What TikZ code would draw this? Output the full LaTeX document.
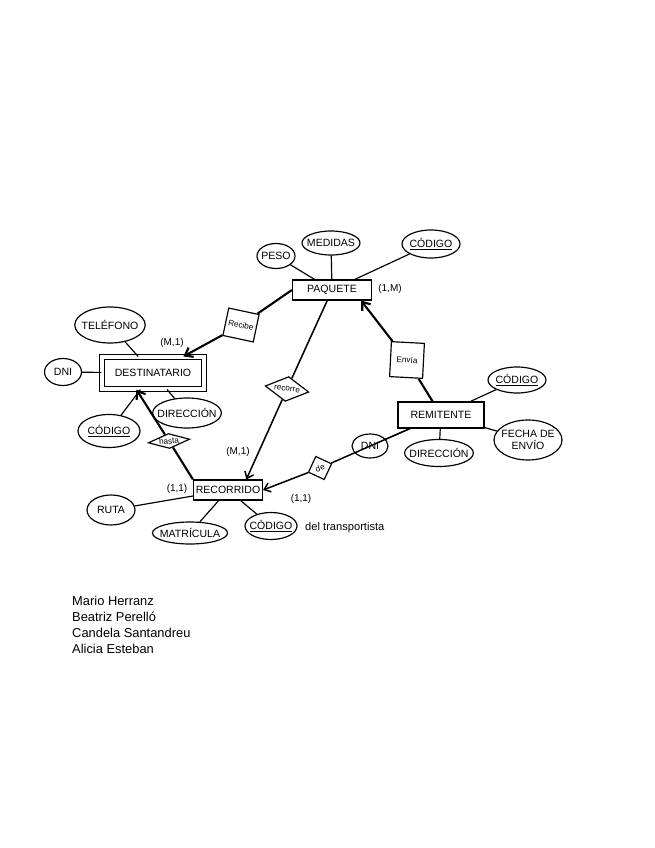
\documentclass[tikz,border=0pt]{standalone}
\usepackage{fontspec}
\setsansfont{Liberation Sans}
\usepackage{tikz}
\usetikzlibrary{shapes.geometric,arrows.meta}
\tikzset{
    % Base node style
    basenode/.style={
        draw=black,
        line width=1pt,
        align=center,
        inner sep=1pt,
        font=\sffamily\fontsize{9}{10}\selectfont
    },
    % Entity style
    entitynode/.style={
        basenode,
        rectangle
    },
    % Weak entity style (double border)
    weaknode/.style={
        entitynode,
        double,
        double distance=3pt
    },
    % Attribute style
    attrnode/.style={
        basenode,
        ellipse,
        inner xsep=-3pt,
        inner ysep=0pt
    },
    % Relationship styles
    relnode/.style={
        basenode,
        diamond,
        inner sep=0pt,
        font=\sffamily\fontsize{7}{8}\selectfont
    },
    relbox/.style={
        basenode,
        rectangle,
        inner sep=0pt,
        font=\sffamily\fontsize{7}{8}\selectfont
    },
    % Cardinality label
    cardlabel/.style={
        inner sep=0pt,
        font=\sffamily\fontsize{8.5}{9}\selectfont
    },
    % Attribute line
    attrline/.style={
        line width=1pt,
        draw=black
    },
    % Relationship line
    relline/.style={
        line width=1.8pt,
        draw=black
    },
    % Arrow styles
    myarrow/.style={
        -{Straight Barb[length=5pt,width=8pt]},
        line width=1.3pt,
        draw=black
    },
    thickarrow/.style={
        -{Straight Barb[length=6pt,width=9pt]},
        line width=1.8pt,
        draw=black
    }
}

\begin{document}
\begin{tikzpicture}[x=0.03cm, y=-0.03cm]
    \useasboundingbox (0,0) rectangle (655,848);

    % Entities
    \node[entitynode, minimum width=2.37cm, minimum height=0.6cm] (paquete) at (332,290) {PAQUETE};
    \node[weaknode, minimum width=3.06cm, minimum height=0.96cm] (destinatario) at (153,373) {DESTINATARIO};
    \node[entitynode, minimum width=2.58cm, minimum height=0.78cm] (remitente) at (441,415) {REMITENTE};
    \node[entitynode, minimum width=2.07cm, minimum height=0.6cm] (recorrido) at (228,490) {RECORRIDO};

    % Attributes of PAQUETE
    \node[attrnode, minimum width=1.14cm, minimum height=0.75cm] (peso) at (276,256) {PESO};
    \node[attrnode, minimum width=1.74cm, minimum height=0.72cm] (medidas) at (331,243) {MEDIDAS};
    \node[attrnode, minimum width=1.74cm, minimum height=0.84cm] (codpaq) at (431,244) {\underline{CÓDIGO}};

    % Attributes of DESTINATARIO
    \node[attrnode, minimum width=1.95cm, minimum height=1.08cm] (telefono) at (110,325) {TELÉFONO};
    \node[attrnode, minimum width=1.11cm, minimum height=0.81cm] (dnidest) at (63,372) {DNI};
    \node[attrnode, minimum width=1.86cm, minimum height=0.99cm] (coddest) at (109,431) {\underline{CÓDIGO}};
    \node[attrnode, inner xsep=-4.5pt, minimum width=1.8cm, minimum height=0.9cm] (dirdest) at (187,413) {DIRECCIÓN};

    % Attributes of REMITENTE
    \node[attrnode, minimum width=1.74cm, minimum height=0.78cm] (codrem) at (517,380) {\underline{CÓDIGO}};
    \node[attrnode, minimum width=2.04cm, minimum height=1.2cm] (fecha) at (528,440) {FECHA DE\\ENVÍO};
    \node[attrnode, minimum width=1.08cm, minimum height=0.72cm] (dnirem) at (370,446) {DNI};
    \node[attrnode, inner xsep=-4.5pt, minimum width=1.89cm, minimum height=0.81cm] (dirrem) at (439,453) {DIRECCIÓN};

    % Attributes of RECORRIDO
    \node[attrnode, minimum width=1.44cm, minimum height=0.9cm] (ruta) at (111,510) {RUTA};
    \node[attrnode, minimum width=2.22cm, minimum height=0.66cm] (matricula) at (190,533) {MATRÍCULA};
    \node[attrnode, minimum width=1.56cm, minimum height=0.81cm] (codrec) at (271,526) {\underline{CÓDIGO}};
    \node[cardlabel, anchor=west, font=\sffamily\fontsize{9.5}{10}\selectfont] (nota) at (305,528) {del transportista};

    % Relationships
    \node[relbox, minimum width=0.93cm, minimum height=0.84cm, rotate=-12] (recibe) at (241,325) {Recibe};
    \node[relbox, minimum width=0.99cm, minimum height=1.05cm, rotate=-3] (envia) at (407,360) {Envía};
    \node[relnode, aspect=2, minimum width=1.32cm, minimum height=0.75cm, rotate=-8] (recorre) at (287,389) {recorre};
    \node[relnode, aspect=3, minimum width=1.25cm, minimum height=0.45cm, rotate=5] (hasta) at (169,441) {hasta};
    \node[relnode, minimum width=0.75cm, minimum height=0.75cm, rotate=20] (de) at (320,468) {de};

    % Cardinalities
    \node[cardlabel] (cardpaq) at (390,289) {(1,M)};
    \node[cardlabel] (carddest) at (172,343) {(M,1)};
    \node[cardlabel] (cardrecm) at (238,452) {(M,1)};
    \node[cardlabel] (cardrecl) at (177,489) {(1,1)};
    \node[cardlabel] (cardrecr) at (301,499) {(1,1)};

    % Attribute lines
    \draw[attrline] (peso) -- (paquete);
    \draw[attrline] (medidas) -- (paquete);
    \draw[attrline] (codpaq) -- (paquete);
    \draw[attrline] (telefono) -- (destinatario);
    \draw[attrline] (dnidest) -- (destinatario);
    \draw[attrline] (coddest) -- (destinatario);
    \draw[attrline] (dirdest) -- (destinatario);
    \draw[attrline] (codrem) -- (remitente);
    \draw[attrline] (fecha) -- (remitente);
    \draw[attrline] (dnirem) -- (remitente);
    \draw[attrline] (dirrem) -- (remitente);
    \draw[attrline] (ruta) -- (recorrido);
    \draw[attrline] (matricula) -- (recorrido);
    \draw[attrline] (codrec) -- (recorrido);

    % Relationship lines
    \draw[relline] (paquete.west) -- (recibe);
    \draw[thickarrow] (recibe) -- (destinatario);
    \draw[relline] (remitente) -- (envia);
    \draw[thickarrow] (envia) -- (paquete.-20);
    \draw[attrline, line width=1.3pt] (paquete) -- (recorre);
    \draw[myarrow] (recorre) -- (recorrido.30);
    \draw[attrline, line width=1.3pt] (remitente) -- (de);
    \draw[myarrow] (de) -- (recorrido.east);
    \draw[relline] (recorrido.north west) -- (hasta);
    \draw[thickarrow] (hasta) -- (destinatario.-135);

    % Authors
    \node[anchor=north west, align=left, inner sep=0pt, font=\sffamily\fontsize{11}{13.6}\selectfont] (autores) at (72,596)
        {Mario Herranz\\Beatriz Perelló\\Candela Santandreu\\Alicia Esteban};
\end{tikzpicture}
\end{document}
